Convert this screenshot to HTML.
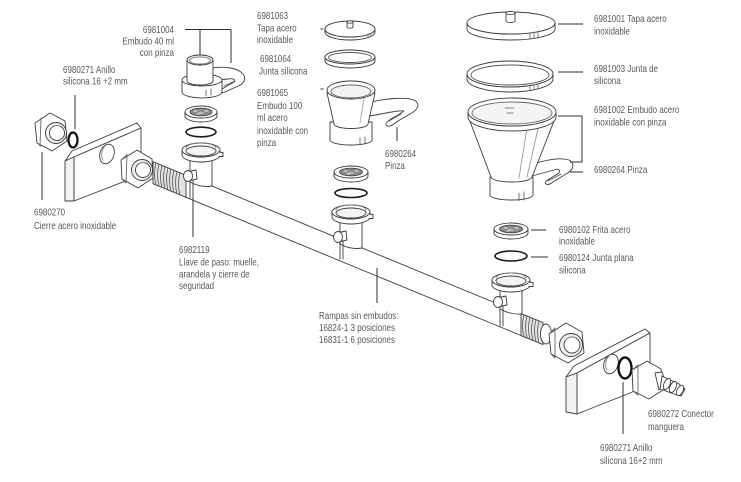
<!DOCTYPE html>
<html><head><meta charset="utf-8"><style>
html,body{margin:0;padding:0;background:#fff}
svg{display:block}
.t{font-family:"Liberation Sans",Arial,sans-serif;font-size:10px;fill:#585858}
</style></head><body>
<svg width="741" height="482" viewBox="0 0 741 482" xmlns="http://www.w3.org/2000/svg">
<rect width="741" height="482" fill="#fff"/>

<!-- ========== DRAWING ========== -->
<g fill="none" stroke="#3c3c3c" stroke-width="0.9" stroke-linejoin="round" stroke-linecap="round">

<!-- Left plate -->
<polygon points="65,161 72,151 137,123 141,128 74,157" fill="#fff"/>
<polygon points="74,157 141,128 141,175 74,201" fill="#fff"/>
<polygon points="65,161 74,157 74,201 65,201" fill="#f2f2f2"/>
<ellipse cx="107" cy="154" rx="7" ry="10" transform="rotate(18 107 154)" fill="#fff"/>
<path d="M103,160 a7,10 18 0 1 2,-14" stroke="#888"/>

<!-- Far-left nut -->
<polygon points="50,113 65,121 67,141 52,151 37,143 35,123" fill="#fff"/>
<path d="M41,118 L40,146 M35,123 L41,119 M37,143 L41,146" stroke="#666"/>
<circle cx="56" cy="133" r="10.5" fill="#f1f1f1"/>
<circle cx="57" cy="133" r="7.5" fill="#fff"/>
<path d="M51,128 a7.5,7.5 0 0 1 9,-2" stroke="#999"/>

<!-- Left O-ring -->
<ellipse cx="73" cy="140" rx="4.5" ry="7.5" stroke="#111" stroke-width="2.2" fill="none"/>

<!-- Tube -->
<polygon points="185,174.9 527,316 527,338 185,196.9" fill="#fff" stroke="none"/>
<line x1="185" y1="174.9" x2="527" y2="316"/>
<line x1="185" y1="196.9" x2="527" y2="338"/>

<!-- Left thread -->
<polygon points="153,161.7 186,175.3 186,197.3 153,183.7" fill="#e2e2e2"/>
<g stroke="#555" stroke-width="0.8">
<path d="M156,163 q-3,11 0,22 M159,164.2 q-3,11 0,22 M162,165.5 q-3,11 0,22 M165,166.7 q-3,11 0,22 M168,168 q-3,11 0,22 M171,169.2 q-3,11 0,22 M174,170.4 q-3,11 0,22 M177,171.7 q-3,11 0,22 M180,172.9 q-3,11 0,22"/>
</g>

<!-- Middle nut (left) -->
<polygon points="137,150 152,159 153,178 138,188 122,179 121,160" fill="#fff"/>
<path d="M127,154 L126,183 M121,160 L127,155 M122,179 L126,183" stroke="#666"/>
<circle cx="142" cy="170" r="10.5" fill="#efefef"/>
<circle cx="143" cy="170" r="7.5" fill="#fff"/>
<path d="M138,165 a7.5,7.5 0 0 1 9,-2" stroke="#999"/>

<!-- Right thread -->
<polygon points="521,313.6 543,322.6 543,344.6 521,335.6" fill="#e2e2e2"/>
<g stroke="#555" stroke-width="0.8">
<path d="M524,314.8 q-3,11 0,22 M527,316 q-3,11 0,22 M530,317.3 q-3,11 0,22 M533,318.5 q-3,11 0,22 M536,319.7 q-3,11 0,22 M539,321 q-3,11 0,22"/>
</g>
<ellipse cx="546" cy="334" rx="5.5" ry="10" fill="#fff"/>

<!-- Right nut -->
<polygon points="566,323 582,332 584,353 568,363 551,354 549,334" fill="#fff"/>
<path d="M555,328 L555,358 M549,334 L555,328 M551,354 L555,358" stroke="#666"/>
<circle cx="571" cy="345" r="11.5" fill="#efefef"/>
<circle cx="572" cy="345" r="8" fill="#fff"/>
<path d="M566,340 a8,8 0 0 1 10,-2" stroke="#999"/>

<!-- Right plate -->
<polygon points="566,377 574,366 645,329 650,333 577,373" fill="#fff"/>
<polygon points="577,373 650,333 650,385 577,414" fill="#fff"/>
<polygon points="566,377 577,373 577,414 566,412" fill="#f2f2f2"/>
<ellipse cx="611" cy="364" rx="7" ry="10" transform="rotate(18 611 364)" fill="#fff"/>
<path d="M607,370 a7,10 18 0 1 2,-14" stroke="#888"/>
<ellipse cx="625" cy="368" rx="6.5" ry="10.5" stroke="#111" stroke-width="2.4" fill="none"/>

<!-- Connector -->
<polygon points="647,361 661,369 663,390 649,399 633,391 632,370" fill="#fff"/>
<path d="M638,365 L638,395 M632,370 L638,365 M633,391 L638,395" stroke="#666"/>
<path d="M655,373 L662,372 L666,384 L659,390 Z" fill="#fff"/>
<path d="M662,376 L679,384 L685,389 L681,396 L674,394 L660,389 Z" fill="#fff"/>
<ellipse cx="667" cy="384" rx="3" ry="6" transform="rotate(25 667 384)" fill="#fff"/>
<ellipse cx="673" cy="387" rx="3" ry="6" transform="rotate(25 673 387)" fill="#fff"/>
<ellipse cx="680" cy="390.5" rx="3" ry="5.5" transform="rotate(25 680 390.5)" fill="#fff"/>

<!-- ===== Holders on tube ===== -->
<!-- Left holder -->
<path d="M190,156 L190,182 Q201,188 212,186 L212,156 Z" fill="#fff"/>
<path d="M182,150 A19,7 0 0 0 220,150 L220,155 A19,7 0 0 1 182,155 Z" fill="#fff"/>
<ellipse cx="201" cy="150" rx="19" ry="7" fill="#fff"/>
<ellipse cx="201" cy="151" rx="15" ry="5" fill="#f3f3f3"/>
<path d="M186,148 a15,5 0 0 1 30,0" stroke="#777"/>
<path d="M218,152 l5,0.5 l0,4 l-4,0" fill="#fff"/>
<path d="M187,172 L196,170 L197,179 L188,181 Z" fill="#fff"/>
<ellipse cx="188" cy="176" rx="4.5" ry="5.5" fill="#fff"/>
<path d="M190,181 L190,198 M193,180 L193,198"/>

<!-- Middle holder -->
<path d="M340,218 L340,244 Q351,250 362,248 L362,218 Z" fill="#fff"/>
<path d="M332,212 A19,7 0 0 0 370,212 L370,217 A19,7 0 0 1 332,217 Z" fill="#fff"/>
<ellipse cx="351" cy="212" rx="19" ry="7" fill="#fff"/>
<ellipse cx="351" cy="213" rx="15" ry="5" fill="#f3f3f3"/>
<path d="M336,210 a15,5 0 0 1 30,0" stroke="#777"/>
<path d="M368,214 l5,0.5 l0,4 l-4,0" fill="#fff"/>
<path d="M337,233 L346,231 L347,240 L338,242 Z" fill="#fff"/>
<ellipse cx="338" cy="237" rx="4.5" ry="5.5" fill="#fff"/>
<path d="M340,242 L340,259 M343,241 L343,259"/>

<!-- Right holder -->
<path d="M500,286 L500,309 Q511,315 522,314 L522,286 Z" fill="#fff"/>
<path d="M492,280 A19,7 0 0 0 530,280 L530,285 A19,7 0 0 1 492,285 Z" fill="#fff"/>
<ellipse cx="511" cy="280" rx="19" ry="7" fill="#fff"/>
<ellipse cx="511" cy="281" rx="15" ry="5" fill="#f3f3f3"/>
<path d="M496,278 a15,5 0 0 1 30,0" stroke="#777"/>
<path d="M528,282 l5,0.5 l0,4 l-4,0" fill="#fff"/>
<path d="M497,298 L506,296 L507,305 L498,307 Z" fill="#fff"/>
<ellipse cx="498" cy="302" rx="4.5" ry="5.5" fill="#fff"/>
<path d="M500,307 L500,326 M503,306 L503,326"/>

<!-- ===== Frits ===== -->
<path d="M185,112 A16,6 0 0 0 217,112 L217,116 A16,6 0 0 1 185,116 Z" fill="#fff"/>
<ellipse cx="201" cy="112" rx="16" ry="6" fill="#fff"/>
<ellipse cx="201" cy="112" rx="11" ry="3.8" fill="#8c8c8c" stroke="#444"/>
<path d="M194,111 h3 M199,113 h4 M205,111 h3 M197,114 h2" stroke="#eee"/>

<path d="M334,172 A17,6 0 0 0 368,172 L368,176 A17,6 0 0 1 334,176 Z" fill="#fff"/>
<ellipse cx="351" cy="172" rx="17" ry="6" fill="#fff"/>
<ellipse cx="351" cy="172" rx="11.5" ry="3.8" fill="#8c8c8c" stroke="#444"/>
<path d="M344,171 h3 M349,173 h4 M355,171 h3 M347,174 h2" stroke="#eee"/>

<path d="M494,229 A17,6 0 0 0 528,229 L528,233 A17,6 0 0 1 494,233 Z" fill="#fff"/>
<ellipse cx="511" cy="229" rx="17" ry="6" fill="#fff"/>
<ellipse cx="511" cy="229" rx="11.5" ry="3.8" fill="#8c8c8c" stroke="#444"/>
<path d="M504,228 h3 M509,230 h4 M515,228 h3 M507,231 h2" stroke="#eee"/>

<!-- ===== Small O-rings ===== -->
<ellipse cx="201" cy="132" rx="15" ry="4.8" stroke="#1a1a1a" stroke-width="1.6"/>
<ellipse cx="351" cy="193" rx="16" ry="4.5" stroke="#1a1a1a" stroke-width="1.6"/>
<ellipse cx="511" cy="256" rx="16" ry="5" stroke="#1a1a1a" stroke-width="1.6"/>

<!-- ===== 40 ml funnel ===== -->
<path d="M212,68 C225,66 238,68 243,74 C247,79 244,84 236,87 L225,92 C221,94 219,91 222,89 L234,82 C236,80 233,78 229,79 L212,80 Z" fill="#fff"/>
<path d="M224,86 L235,81" stroke="#555"/>
<path d="M182,80 L182,92 A20,6 0 0 0 222,92 L222,80 Z" fill="#fff"/>
<ellipse cx="202" cy="80" rx="20" ry="6" fill="#fff"/>
<path d="M206,90 l0,6 M211,89 l0,6" stroke="#666"/>
<path d="M187,60 L187,81 A13,4 0 0 0 213,81 L213,60 Z" fill="#fff"/>
<ellipse cx="200" cy="60" rx="13" ry="5" fill="#f4f4f4"/>
<ellipse cx="200" cy="60.5" rx="10.5" ry="3.6" fill="#fff" stroke="#777"/>

<!-- ===== Center lid / gasket / funnel 100 ===== -->
<path d="M325,29 A25,8 0 0 0 375,29 L375,32 A25,8 0 0 1 325,32 Z" fill="#fff"/>
<ellipse cx="350" cy="29" rx="25" ry="8" fill="#fff"/>
<path d="M368,34 l0,3 M371,33 l0,3" stroke="#777"/>
<path d="M347,22 L347,27 A3,1.2 0 0 0 353,27 L353,22 Z" fill="#fff"/>
<ellipse cx="350" cy="22" rx="3" ry="1.2" fill="#fff"/>

<path d="M325,57 A25,7 0 0 0 375,57 L375,61 A25,7 0 0 1 325,61 Z" fill="#fff"/>
<ellipse cx="350" cy="57" rx="25" ry="7" fill="#fff"/>
<ellipse cx="350" cy="57.5" rx="21.5" ry="5" fill="#fff" stroke="#555"/>

<path d="M368,103 C385,98 405,97 414,100 C421,104 418,110 410,114 L398,121 C393,125 388,128 386,125 C385,122 392,118 398,115 L404,111 C400,110 392,112 386,113 L370,116 Z" fill="#fff"/>
<path d="M389,121 L401,114" stroke="#555"/>
<path d="M330,122 L330,140 A21,5 0 0 0 372,140 L372,122 Z" fill="#fff"/>
<path d="M360,138 l0,6 M365,137 l0,6" stroke="#666"/>
<path d="M327,93 L334,124 A17,4.5 0 0 0 368,124 L375,93 Z" fill="#fff"/>
<path d="M364,98 L360,123" stroke="#aaa"/>
<ellipse cx="351" cy="90" rx="24" ry="9" fill="#fff"/>
<ellipse cx="351" cy="91.5" rx="20" ry="6.5" fill="#f3f3f3" stroke="#666"/>

<!-- ===== Big lid / gasket / funnel ===== -->
<path d="M467,23 A44,11 0 0 0 555,23 L555,29 A44,11 0 0 1 467,29 Z" fill="#fff"/>
<ellipse cx="511" cy="23" rx="44" ry="11" fill="#fff"/>
<path d="M530,33 l0,6 M534,32 l0,6 M538,31 l0,6" stroke="#777"/>
<path d="M506,13 L506,21 A4.5,1.6 0 0 0 515,21 L515,13 Z" fill="#fff"/>
<ellipse cx="510.5" cy="13" rx="4.5" ry="1.6" fill="#fff"/>

<path d="M467,74 A43,13 0 0 0 553,74 L553,79 A43,13 0 0 1 467,79 Z" fill="#fff"/>
<ellipse cx="510" cy="74" rx="43" ry="13" fill="#fff"/>
<ellipse cx="510" cy="75" rx="39" ry="10" fill="#fff" stroke="#555"/>
<path d="M530,86 l0,5 M534,85 l0,5 M538,84 l0,5" stroke="#777"/>

<path d="M530,165 C545,160 560,157 569,160 C575,163 574,170 566,174 L553,182 C548,186 544,185 546,181 L559,173 C561,170 558,168 554,170 L532,176 Z" fill="#fff"/>
<path d="M548,181 L561,174" stroke="#555"/>
<path d="M490,177 L490,195 A21.5,5 0 0 0 533,195 L533,177 Z" fill="#fff"/>
<path d="M519,193 l0,8 M524,192 l0,8" stroke="#666"/>
<path d="M468,116 L491,177 A20.5,5 0 0 0 532,177 L556,116 Z" fill="#fff"/>
<path d="M528,122 L519,178 M540,120 L527,177" stroke="#999"/>
<path d="M468,112 A44,14 0 0 0 556,112 L556,117 A44,14 0 0 1 468,117 Z" fill="#fff"/>
<ellipse cx="512" cy="112" rx="44" ry="14" fill="#fff"/>
<ellipse cx="512" cy="113" rx="40" ry="11" fill="#f5f5f5" stroke="#666"/>
<path d="M505,108 h9 M507,113 h6" stroke="#888"/>
</g>

<!-- ========== LEADER LINES ========== -->
<g stroke="#2e2e2e" stroke-width="1" fill="none">
<path d="M185,29.5 H231 M200,29.5 V55 M231,29.5 V63"/>
<path d="M75,95 V129"/>
<path d="M42,152 V200"/>
<path d="M320.5,29 h3 M320.5,89 h3"/>
<path d="M397,127 V141"/>
<path d="M558,24 H583"/>
<path d="M558,72 H583"/>
<path d="M558,116 H582 V162 H570"/>
<path d="M570,172 H583"/>
<path d="M531,230 H546"/>
<path d="M531,257 H548"/>
<path d="M193,198 V237"/>
<path d="M377,268 V303"/>
<path d="M623,382 V434"/>
</g>

<!-- ========== TEXT ========== -->
<g class="t">
<text text-anchor="end" transform="translate(174 33) scale(0.8 1)">6981004</text>
<text text-anchor="end" transform="translate(174 44.5) scale(0.8 1)">Embudo 40 ml</text>
<text text-anchor="end" transform="translate(174 56) scale(0.8 1)">con pinza</text>

<text transform="translate(63 73) scale(0.8 1)">6980271 Anillo</text>
<text transform="translate(63 84.5) scale(0.8 1)">silicona 16 +2 mm</text>

<text transform="translate(34 215.5) scale(0.8 1)">6980270</text>
<text transform="translate(34 229) scale(0.8 1)">Cierre acero inoxidable</text>

<text transform="translate(257 19) scale(0.8 1)">6981063</text>
<text transform="translate(257 31.5) scale(0.8 1)">Tapa acero</text>
<text transform="translate(257 43) scale(0.8 1)">inoxidable</text>

<text transform="translate(260 62) scale(0.8 1)">6981064</text>
<text transform="translate(259 74.5) scale(0.8 1)">Junta silicona</text>

<text transform="translate(257 96) scale(0.8 1)">6981065</text>
<text transform="translate(257 109) scale(0.8 1)">Embudo 100</text>
<text transform="translate(257 121) scale(0.8 1)">ml acero</text>
<text transform="translate(257 134) scale(0.8 1)">inoxidable con</text>
<text transform="translate(257 146) scale(0.8 1)">pinza</text>

<text transform="translate(385 157) scale(0.8 1)">6980264</text>
<text transform="translate(385 169) scale(0.8 1)">Pinza</text>

<text transform="translate(594 22) scale(0.8 1)">6981001 Tapa acero</text>
<text transform="translate(594 34.5) scale(0.8 1)">inoxidable</text>

<text transform="translate(594 72) scale(0.8 1)">6981003 Junta de</text>
<text transform="translate(594 84) scale(0.8 1)">silicona</text>

<text transform="translate(594 113) scale(0.8 1)">6981002 Embudo acero</text>
<text transform="translate(594 125.5) scale(0.8 1)">inoxidable con pinza</text>

<text transform="translate(594 173) scale(0.8 1)">6980264 Pinza</text>

<text transform="translate(559 233) scale(0.8 1)">6980102 Frita acero</text>
<text transform="translate(559 244.5) scale(0.8 1)">inoxidable</text>

<text transform="translate(559 261) scale(0.8 1)">6980124 Junta plana</text>
<text transform="translate(559 273.5) scale(0.8 1)">silicona</text>

<text transform="translate(179 253) scale(0.8 1)">6982119</text>
<text transform="translate(179 265.5) scale(0.8 1)">Llave de paso: muelle,</text>
<text transform="translate(179 277.5) scale(0.8 1)">arandela y cierre de</text>
<text transform="translate(179 289) scale(0.8 1)">seguridad</text>

<text transform="translate(319 319) scale(0.8 1)">Rampas sin embudos:</text>
<text transform="translate(319 331) scale(0.8 1)">16824-1 3 posiciones</text>
<text transform="translate(319 343) scale(0.8 1)">16831-1 6 posiciones</text>

<text transform="translate(648 417) scale(0.8 1)">6980272 Conector</text>
<text transform="translate(648 430) scale(0.8 1)">manguera</text>

<text transform="translate(600 451) scale(0.8 1)">6980271 Anillo</text>
<text transform="translate(600 464) scale(0.8 1)">silicona 16+2 mm</text>
</g>
</svg>
</body></html>
